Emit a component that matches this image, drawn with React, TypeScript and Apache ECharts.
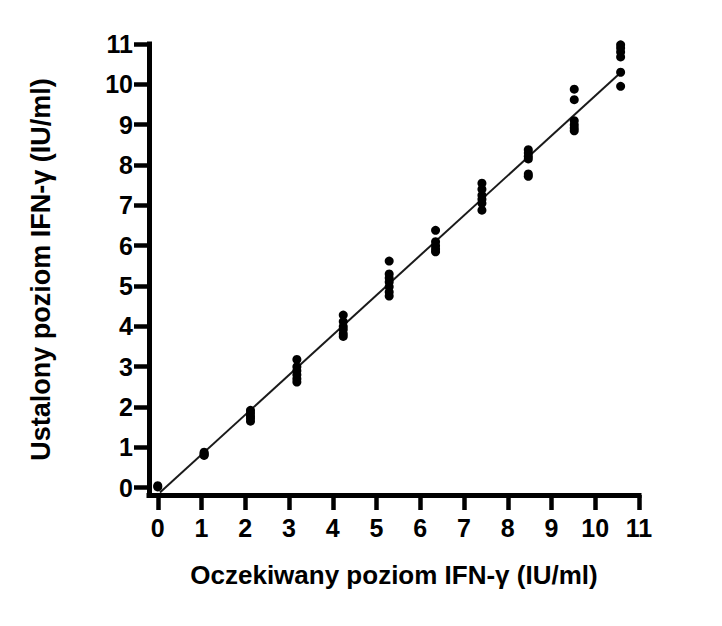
import React, { useEffect, useRef } from "react";
import * as echarts from "echarts";

const xTicks = [0, 1, 2, 3, 4, 5, 6, 7, 8, 9, 10, 11];
const yTicks = [0, 1, 2, 3, 4, 5, 6, 7, 8, 9, 10, 11];

const expectedLevels = [0, 1.06, 2.12, 3.18, 4.24, 5.29, 6.35, 7.41, 8.47, 9.52, 10.58];
const measuredValues: number[][] = [
  [0.05, 0.02],
  [0.88, 0.85, 0.82, 0.8],
  [1.92, 1.85, 1.78, 1.72, 1.65],
  [3.18, 3.0, 2.9, 2.8, 2.7, 2.62],
  [4.28, 4.12, 4.0, 3.92, 3.82, 3.75],
  [5.62, 5.3, 5.2, 5.1, 4.98, 4.85, 4.75],
  [6.38, 6.1, 6.0, 5.92, 5.85],
  [7.55, 7.4, 7.25, 7.15, 7.05, 6.88],
  [8.38, 8.3, 8.22, 8.15, 7.78, 7.72],
  [9.88, 9.62, 9.1, 9.0, 8.92, 8.85],
  [10.98, 10.9, 10.8, 10.68, 10.3, 9.95],
];

const fitX = [0.05, 10.57];
const fitY = [-0.12, 10.28];

const xTitle = "Oczekiwany poziom IFN-γ (IU/ml)";
const yTitle = "Ustalony poziom IFN-γ (IU/ml)";

export default function App() {
  const ref = useRef<HTMLDivElement>(null);
  useEffect(() => {
    if (!ref.current) return;
    const chart = echarts.init(ref.current, null, { renderer: "svg" });
    const points: number[][] = [];
    expectedLevels.forEach((x, i) => {
      measuredValues[i].forEach((y) => points.push([x, y]));
    });
    const font = "'Liberation Sans', Arial, Helvetica, sans-serif";
    const axisLineStyle = { color: "#000", width: 5, cap: "square" };
    const tickStyle = { color: "#000", width: 4.5, cap: "butt" };
    chart.setOption({
      animation: false,
      backgroundColor: "#fff",
      grid: { left: 149, right: 83, top: 44, bottom: 131, containLabel: false },
      xAxis: {
        type: "value",
        min: -0.2,
        max: 11,
        name: xTitle,
        nameLocation: "middle",
        nameGap: 67,
        nameTextStyle: { fontFamily: font, fontWeight: "bold", fontSize: 26, color: "#000" },
        splitLine: { show: false },
        axisLine: { show: true, onZero: false, lineStyle: axisLineStyle },
        axisTick: { show: true, length: 15, customValues: xTicks, lineStyle: tickStyle },
        axisLabel: {
          customValues: xTicks,
          margin: 20,
          fontFamily: font,
          fontWeight: "bold",
          fontSize: 25,
          color: "#000",
        },
      },
      yAxis: {
        type: "value",
        min: -0.18,
        max: 11,
        name: yTitle,
        nameLocation: "middle",
        nameGap: 95,
        nameTextStyle: { fontFamily: font, fontWeight: "bold", fontSize: 27, color: "#000" },
        splitLine: { show: false },
        axisLine: { show: true, onZero: false, lineStyle: axisLineStyle },
        axisTick: { show: true, length: 15, customValues: yTicks, lineStyle: tickStyle },
        axisLabel: {
          customValues: yTicks,
          margin: 16,
          fontFamily: font,
          fontWeight: "bold",
          fontSize: 25,
          color: "#000",
        },
      },
      series: [
        {
          type: "line",
          data: fitX.map((x, i) => [x, fitY[i]]),
          showSymbol: false,
          symbol: "none",
          lineStyle: { color: "#1a1a1a", width: 2 },
          z: 2,
        },
        {
          type: "scatter",
          data: points,
          symbol: "circle",
          symbolSize: 9,
          itemStyle: { color: "#000", opacity: 1 },
          z: 3,
        },
      ],
    });
    return () => chart.dispose();
  }, []);
  return <div ref={ref} style={{ width: 722, height: 626, margin: -8 }} />;
}
